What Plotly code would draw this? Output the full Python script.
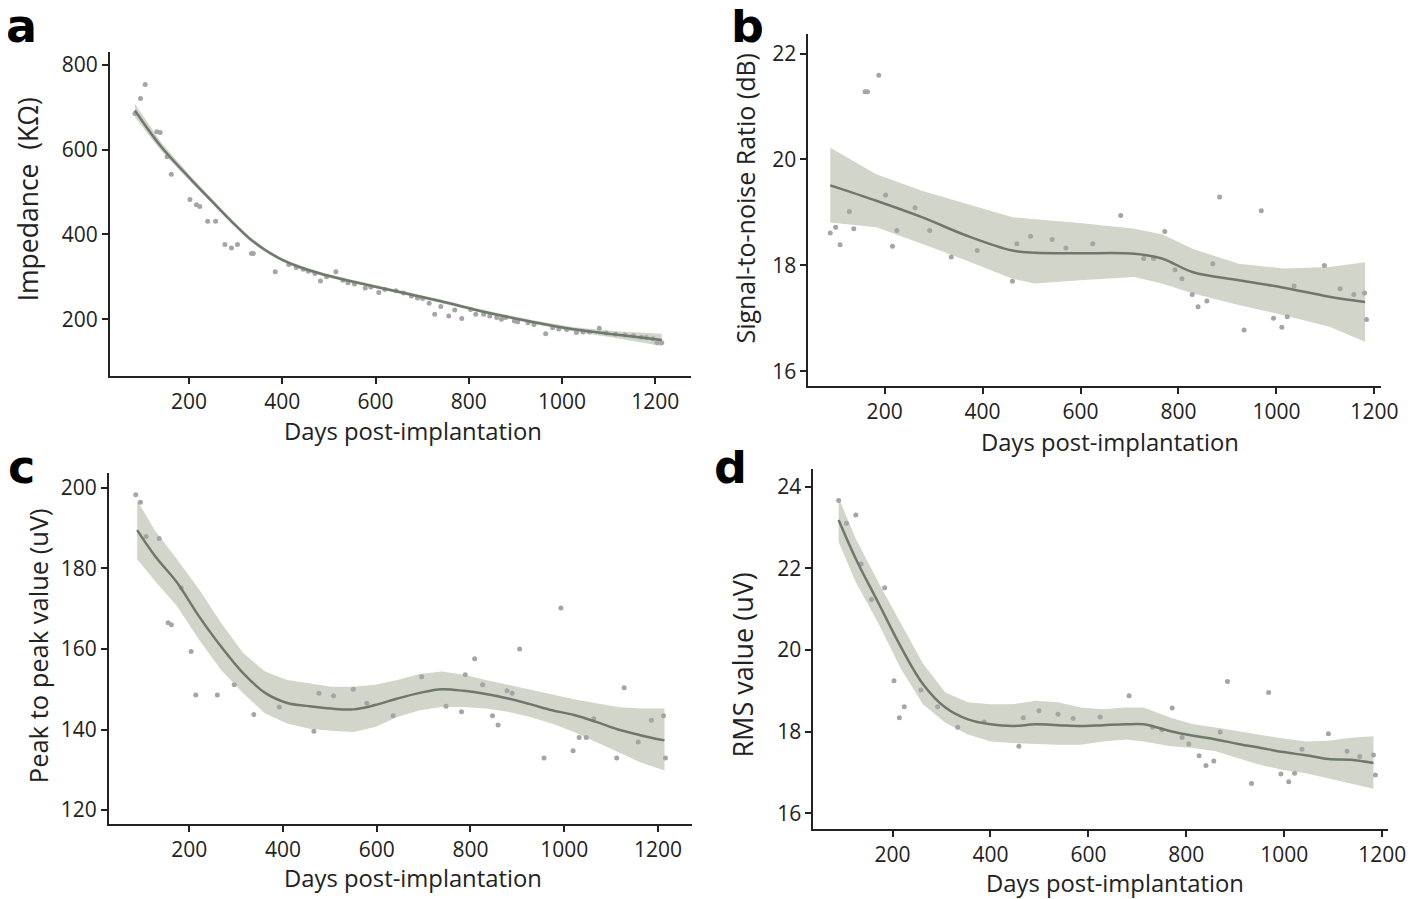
import plotly.graph_objects as go

# ---------------- Panel a: Impedance ----------------
a_days = [84, 96, 106, 131, 138, 153, 162, 202, 216, 223, 240, 257, 277, 291, 304, 334, 338,
          385, 414, 430, 445, 456, 470, 482, 495, 515, 530, 541, 555, 578, 590, 607, 620, 644,
          660, 677, 690, 701, 715, 727, 740, 757, 770, 785, 804, 815, 832, 845, 860, 870, 879,
          898, 905, 927, 940, 965, 980, 993, 1010, 1031, 1045, 1059, 1080, 1095, 1115, 1135,
          1153, 1170, 1181, 1195, 1204, 1214]
a_vals = [685, 720, 753, 642, 640, 583, 542, 482, 470, 466, 431, 431, 376, 368, 376, 355, 355,
          312, 329, 322, 318, 313, 308, 290, 300, 312, 292, 286, 283, 274, 276, 263, 270, 267,
          262, 255, 250, 249, 238, 212, 230, 208, 222, 202, 223, 212, 212, 208, 204, 200, 204,
          196, 194, 192, 188, 166, 180, 177, 176, 169, 170, 170, 179, 168, 165, 163, 161, 158,
          157, 154, 145, 145]
a_fit_x = [84, 140, 202, 250, 290, 330, 365, 400, 440, 490, 550, 644, 738, 832, 927, 1021, 1115, 1214]
a_fit_y = [692, 607, 532, 477, 432, 390, 362, 340, 322, 305, 289, 266, 243, 218, 196, 177, 164, 151]
a_fit_lo = [676, 597, 525, 471, 427, 385, 358, 336, 318, 301, 285, 262, 239, 214, 192, 172, 156, 137]
a_fit_hi = [708, 617, 539, 483, 437, 395, 366, 344, 326, 309, 293, 270, 247, 222, 200, 182, 172, 166]

# ---------------- Panel b: SNR ----------------
b_days = [89, 100, 109, 128, 137, 160, 165, 188, 202, 216, 225, 262, 292, 336, 389, 461, 470,
          498, 542, 570, 625, 682, 729, 749, 772, 793, 807, 828, 840, 858, 870, 884, 934, 969,
          994, 1011, 1022, 1036, 1098, 1130, 1158, 1180, 1184]
b_vals = [18.61, 18.72, 18.39, 19.02, 18.69, 21.28, 21.28, 21.59, 19.33, 18.36, 18.66, 19.09,
          18.66, 18.16, 18.28, 17.70, 18.41, 18.55, 18.49, 18.33, 18.41, 18.94, 18.13, 18.13,
          18.64, 17.92, 17.75, 17.45, 17.22, 17.33, 18.03, 19.29, 16.78, 19.03, 17.00, 16.83,
          17.03, 17.61, 18.00, 17.56, 17.45, 17.48, 16.98]
b_fit_x = [89, 183, 276, 368, 461, 507, 599, 710, 766, 830, 923, 1015, 1108, 1181]
b_fit_y = [19.51, 19.22, 18.91, 18.56, 18.28, 18.24, 18.23, 18.22, 18.13, 17.87, 17.72, 17.58,
           17.41, 17.31]
b_fit_lo = [18.81, 18.72, 18.41, 18.09, 17.75, 17.66, 17.72, 17.78, 17.66, 17.47, 17.25, 17.06,
            16.84, 16.56]
b_fit_hi = [20.22, 19.72, 19.41, 19.16, 18.91, 18.87, 18.80, 18.69, 18.59, 18.31, 18.03, 17.94,
            17.97, 18.06]

# ---------------- Panel c: Peak to peak ----------------
c_days = [86, 96, 108, 136, 155, 162, 183, 204, 214, 260, 296, 338, 392, 466, 477, 508, 550,
          579, 635, 696, 748, 781, 789, 809, 826, 847, 859, 878, 889, 905, 957, 993, 1019, 1032,
          1047, 1063, 1112, 1128, 1158, 1186, 1212, 1216]
c_vals = [198.3, 196.4, 187.9, 187.4, 166.5, 166.0, 175.2, 159.4, 148.6, 148.6, 151.1, 143.7,
          145.6, 139.6, 149.0, 148.4, 150.0, 146.5, 143.4, 153.1, 145.8, 144.4, 153.6, 157.6,
          151.1, 143.4, 141.1, 149.6, 149.0, 160.0, 132.9, 170.2, 134.7, 138.0, 138.0, 142.7,
          132.9, 150.4, 136.9, 142.3, 143.4, 132.9]
c_fit_x = [89, 127, 174, 221, 268, 315, 362, 409, 456, 503, 550, 597, 644, 692, 739, 786, 833,
           880, 927, 974, 1021, 1068, 1115, 1162, 1214]
c_fit_y = [189.5, 183.1, 176.5, 168.1, 160.6, 154.0, 149.1, 146.6, 145.8, 145.2, 145.0, 146.1,
           147.7, 149.1, 150.0, 149.6, 148.8, 147.7, 146.3, 144.8, 143.6, 141.9, 140.0, 138.6,
           137.3]
c_fit_lo = [182.3, 176.9, 170.6, 162.3, 154.8, 149.0, 144.0, 141.5, 140.2, 139.7, 139.4, 140.6,
            143.1, 144.8, 145.6, 145.6, 145.2, 144.4, 143.1, 141.5, 139.4, 136.9, 134.4, 131.9,
            129.8]
c_fit_hi = [196.9, 189.4, 182.3, 174.8, 166.5, 159.0, 154.4, 152.3, 151.5, 150.6, 150.6, 151.1,
            152.3, 153.8, 154.4, 153.6, 152.3, 151.1, 149.8, 148.6, 147.5, 146.5, 145.6, 145.2,
            145.2]

# ---------------- Panel d: RMS ----------------
d_days = [90, 106, 125, 136, 157, 184, 203, 214, 224, 258, 292, 333, 387, 458, 467, 499, 538,
          569, 624, 683, 731, 750, 771, 791, 805, 826, 840, 856, 869, 884, 933, 968, 993, 1009,
          1021, 1036, 1090, 1128, 1154, 1182, 1186]
d_vals = [23.67, 23.11, 23.31, 22.11, 21.24, 21.53, 19.25, 18.34, 18.61, 19.02, 18.61, 18.11,
          18.24, 17.64, 18.34, 18.51, 18.43, 18.32, 18.36, 18.88, 18.11, 18.05, 18.58, 17.86,
          17.70, 17.41, 17.17, 17.28, 17.99, 19.23, 16.73, 18.96, 16.96, 16.77, 16.98, 17.57,
          17.95, 17.52, 17.39, 17.43, 16.94]
d_fit_x = [90, 125, 171, 217, 262, 308, 354, 400, 446, 492, 538, 584, 630, 676, 713, 768, 814,
           860, 906, 952, 998, 1044, 1090, 1136, 1182]
d_fit_y = [23.19, 22.24, 21.16, 20.08, 19.17, 18.59, 18.30, 18.18, 18.14, 18.18, 18.16, 18.14,
           18.16, 18.18, 18.18, 18.01, 17.90, 17.81, 17.70, 17.60, 17.50, 17.42, 17.33, 17.31,
           17.23]
d_fit_lo = [22.65, 21.66, 20.66, 19.54, 18.67, 18.22, 17.93, 17.76, 17.72, 17.70, 17.68, 17.68,
            17.76, 17.81, 17.76, 17.64, 17.60, 17.52, 17.35, 17.18, 17.06, 16.98, 16.85, 16.73,
            16.60]
d_fit_hi = [23.73, 22.73, 21.66, 20.66, 19.67, 18.96, 18.72, 18.67, 18.67, 18.76, 18.72, 18.59,
            18.55, 18.59, 18.59, 18.34, 18.18, 18.10, 18.01, 17.91, 17.83, 17.76, 17.78, 17.85,
            17.89]

# ---------------- Labels ----------------
panel_letters = ["a", "b", "c", "d"]
y_titles = ["Impedance  (KΩ)", "Signal-to-noise Ratio (dB)", "Peak to peak value (uV)", "RMS value (uV)"]
x_title = "Days post-implantation"
x_ticks = [200, 400, 600, 800, 1000, 1200]
y_ticks = [[200, 400, 600, 800], [16, 18, 20, 22], [120, 140, 160, 180, 200], [16, 18, 20, 22, 24]]

panels = [
    (a_days, a_vals, a_fit_x, a_fit_y, a_fit_lo, a_fit_hi),
    (b_days, b_vals, b_fit_x, b_fit_y, b_fit_lo, b_fit_hi),
    (c_days, c_vals, c_fit_x, c_fit_y, c_fit_lo, c_fit_hi),
    (d_days, d_vals, d_fit_x, d_fit_y, d_fit_lo, d_fit_hi),
]

# page is 1418x899; the html body has an 8 px margin
OFF = 8
W, H = 1418 - OFF, 899 - OFF
# pixel boxes in page coordinates (left, right, top, bottom)
boxes = [(111, 699, 50, 375), (818, 1398, 32, 385), (110, 700, 472, 824), (823, 1405, 468, 829)]
x_ranges = [[30, 1276], [44, 1214], [28.4, 1272], [38, 1212]]
y_ranges = [[66, 830], [15.72, 22.37], [116.5, 203.7], [15.61, 24.44]]
letter_pos = [(22, 24), (757, 24), (22, 466), (739, 466)]
ytitle_pos = [(28, 198), (754, 197), (38, 645), (751, 665)]
ytitle_size = [26.5, 25, 25.5, 27]
xtitle_pos = [(418, 430), (1123, 441), (418, 878), (1129, 883)]

RIBBON = "rgb(210,213,202)"
LINE = "rgb(110,120,108)"
POINT = "rgb(165,165,165)"
FONT = "Open Sans"


def px(x):
    return (x - OFF) / W


def py(y):
    return 1 - (y - OFF) / H


fig = go.Figure()
layout = dict(width=W, height=H, margin=dict(l=0, r=0, t=0, b=0),
              plot_bgcolor="white", paper_bgcolor="white", showlegend=False,
              font=dict(family=FONT, color="#222"))
annotations = []
for i, (xs, ys, fx, fy, flo, fhi) in enumerate(panels):
    n = "" if i == 0 else str(i + 1)
    xa, ya = "x" + n, "y" + n
    fig.add_trace(go.Scatter(x=fx + fx[::-1], y=fhi + flo[::-1], fill="toself",
                             fillcolor=RIBBON, line=dict(width=0), mode="lines",
                             hoverinfo="skip", xaxis=xa, yaxis=ya))
    fig.add_trace(go.Scatter(x=xs, y=ys, mode="markers",
                             marker=dict(size=5, color=POINT), xaxis=xa, yaxis=ya))
    fig.add_trace(go.Scatter(x=fx, y=fy, mode="lines",
                             line=dict(color=LINE, width=2.5, shape="spline", smoothing=1.0),
                             xaxis=xa, yaxis=ya))
    l, r, t, b = boxes[i]
    common = dict(showline=True, linecolor="#222", linewidth=1.5, ticks="outside", ticklen=6,
                  tickcolor="#222", tickwidth=1.5, showgrid=False, zeroline=False,
                  tickfont=dict(size=21, family=FONT, color="#222"))
    layout["xaxis" + n] = dict(domain=[px(l), px(r)], range=x_ranges[i], anchor=ya,
                               tickvals=x_ticks, **common)
    layout["yaxis" + n] = dict(domain=[py(b), py(t)], range=y_ranges[i], anchor=xa,
                               tickvals=y_ticks[i], **common)
    lx, ly = letter_pos[i]
    annotations.append(dict(text="<b>" + panel_letters[i] + "</b>", x=px(lx), y=py(ly),
                            xref="paper", yref="paper", showarrow=False,
                            font=dict(size=46, family="DejaVu Sans", color="black"),
                            height=34, valign="middle",
                            xanchor="center", yanchor="middle"))
    tx, ty = ytitle_pos[i]
    annotations.append(dict(text=y_titles[i], x=px(tx), y=py(ty), xref="paper", yref="paper",
                            showarrow=False, textangle=-90,
                            font=dict(size=ytitle_size[i], family=FONT, color="#222"),
                            xanchor="center", yanchor="middle"))
    tx, ty = xtitle_pos[i]
    annotations.append(dict(text=x_title, x=px(tx), y=py(ty), xref="paper", yref="paper",
                            showarrow=False,
                            font=dict(size=23.8, family=FONT, color="#222"),
                            xanchor="center", yanchor="middle"))
layout["annotations"] = annotations
fig.update_layout(**layout)
fig.write_html("out.html")
